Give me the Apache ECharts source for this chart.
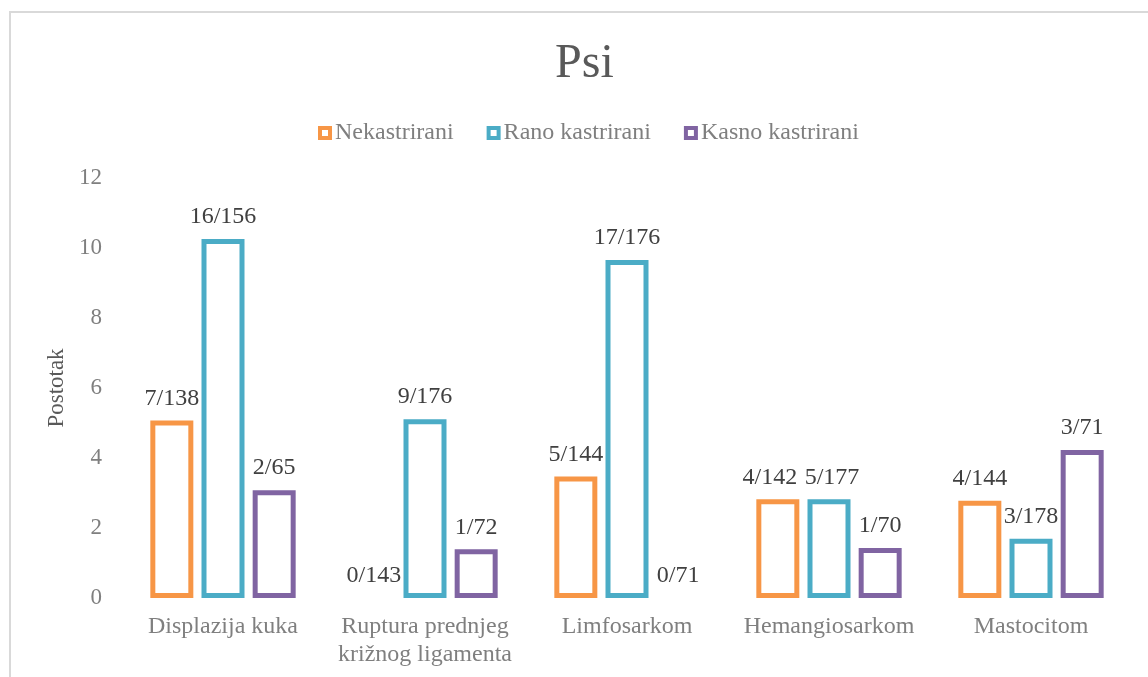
<!DOCTYPE html>
<html lang="en">

<head>
  <meta charset="UTF-8">
  <title>Psi</title>
  <script src="https://cdn.jsdelivr.net/npm/echarts@6/dist/echarts.min.js"></script>
  <style>
    body { margin: 0; background: #fff; }
    #frame {
      position: absolute;
      left: 9px;
      top: 11px;
      width: 1139px;
      height: 666px;
      border-left: 2px solid #d9d9d9;
      border-top: 2px solid #d9d9d9;
    }
    #chart { position: absolute; left: 0; top: 0; width: 1148px; height: 677px; }
  </style>
</head>

<body>
  <div id="frame"></div>
  <div id="chart"></div>
  <script>
    // podaci
    const categories = ['Displazija kuka', 'Ruptura prednjeg\nkrižnog ligamenta', 'Limfosarkom', 'Hemangiosarkom', 'Mastocitom']
    const seriesNames = ['Nekastrirani', 'Rano kastrirani', 'Kasno kastrirani']
    const nekastrirani = [5.07, 0, 3.47, 2.82, 2.78]
    const ranoKastrirani = [10.26, 5.11, 9.66, 2.82, 1.69]
    const kasnoKastrirani = [3.08, 1.39, 0, 1.43, 4.23]
    const nekastriraniLabels = ['7/138', '0/143', '5/144', '4/142', '4/144']
    const ranoLabels = ['16/156', '9/176', '17/176', '5/177', '3/178']
    const kasnoLabels = ['2/65', '1/72', '0/71', '1/70', '3/71']
    const yTicks = [0, 2, 4, 6, 8, 10, 12]

    const colors = ['#F79646', '#4BACC6', '#8064A2']
    const font = "'Liberation Serif', 'Times New Roman', serif"

    // pomaci natpisa (da se ne preklapaju), kao u originalu
    const labelShifts = [
      { 3: -8 },
      { 3: 3 },
      {}
    ]

    let chart = echarts.init(document.getElementById('chart'))

    function makeSeries(idx, values, labels) {
      return {
        name: seriesNames[idx],
        type: 'bar',
        barWidth: 43,
        barGap: '19%',
        data: values.map(function (v, i) {
          let item = { value: v }
          // nula -> bez okvira, samo natpis
          if (v === 0) item.itemStyle = { borderWidth: 0 }
          if (labelShifts[idx][i]) item.label = { offset: [labelShifts[idx][i], 0] }
          return item
        }),
        itemStyle: {
          color: '#ffffff',
          borderColor: colors[idx],
          borderWidth: 5
        },
        label: {
          show: true,
          position: 'top',
          distance: 10,
          color: '#404040',
          fontFamily: font,
          fontSize: 24,
          formatter: function (p) { return labels[p.dataIndex] }
        }
      }
    }

    let option = {
      animation: false,
      title: {
        text: 'Psi',
        left: 550,
        top: 35,
        textStyle: {
          color: '#595959',
          fontFamily: font,
          fontSize: 48,
          fontWeight: 'normal'
        }
      },
      legend: {
        top: 116,
        left: 313,
        icon: 'rect',
        itemWidth: 10,
        itemHeight: 10,
        itemGap: 33,
        itemStyle: { borderWidth: 4 },
        textStyle: {
          color: '#7f7f7f',
          fontFamily: font,
          fontSize: 24
        }
      },
      grid: {
        left: 122,
        right: 16,
        top: 178,
        bottom: 79
      },
      xAxis: {
        type: 'category',
        data: categories,
        axisLine: { show: false },
        axisTick: { show: false },
        axisLabel: {
          interval: 0,
          color: '#7f7f7f',
          fontFamily: font,
          fontSize: 24,
          lineHeight: 28,
          margin: 15
        }
      },
      yAxis: {
        type: 'value',
        min: yTicks[0],
        max: yTicks[yTicks.length - 1],
        interval: 2,
        name: 'Postotak',
        nameLocation: 'middle',
        nameGap: 53,
        nameTextStyle: {
          color: '#595959',
          fontFamily: font,
          fontSize: 23
        },
        axisLine: { show: false },
        axisTick: { show: false },
        splitLine: { show: false },
        axisLabel: {
          color: '#7f7f7f',
          fontFamily: font,
          fontSize: 23,
          margin: 20
        }
      },
      series: [
        makeSeries(0, nekastrirani, nekastriraniLabels),
        makeSeries(1, ranoKastrirani, ranoLabels),
        makeSeries(2, kasnoKastrirani, kasnoLabels)
      ]
    }

    chart.setOption(option)
  </script>
</body>

</html>
